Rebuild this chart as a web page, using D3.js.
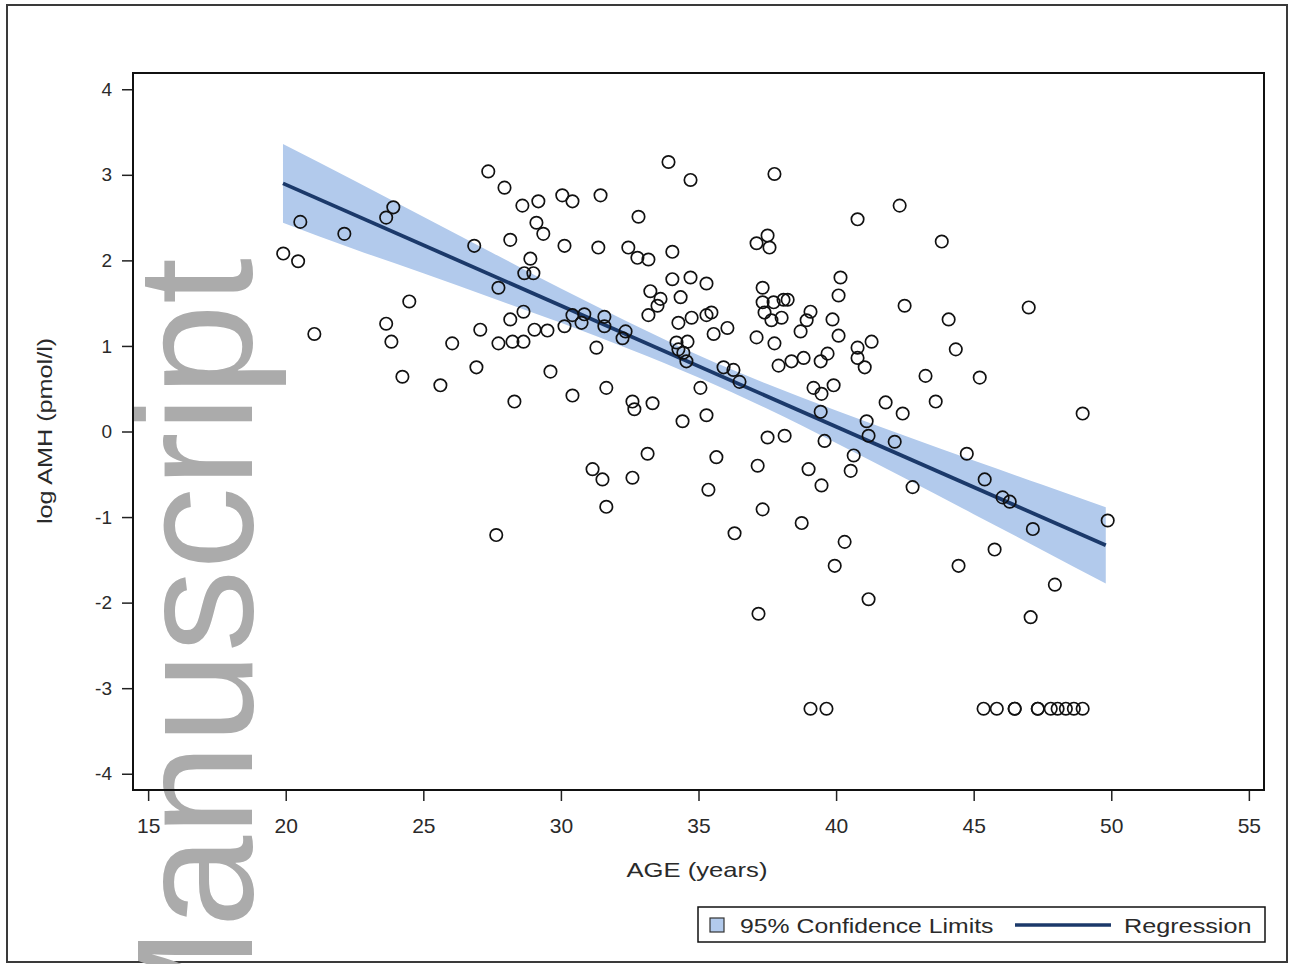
<!DOCTYPE html>
<html>
<head>
<meta charset="utf-8">
<script src="https://cdn.jsdelivr.net/npm/d3@7"></script>
<style>
  html, body { margin: 0; padding: 0; background: #fff; }
  svg { display: block; }
  text { font-family: "Liberation Sans", Arial, sans-serif; }
</style>
</head>
<body>
<svg id="chart" width="1289" height="964"></svg>
<script>
// ---------------- data ----------------
const age = [
  19.91, 20.45, 20.53, 21.04, 22.13, 23.65, 23.91, 23.65, 23.84, 24.49, 24.24, 25.62, 26.05,
  27.36, 27.95, 28.60, 29.18, 30.05, 30.42, 31.44, 33.91, 34.71, 29.11, 29.36, 32.82,
  26.85, 28.16, 30.13, 31.36, 32.45, 32.78, 33.18, 34.05, 28.89, 28.67, 29.00, 27.73,
  34.05, 34.71, 35.29, 33.25, 33.62, 34.35, 33.51, 33.18, 34.27, 34.75, 35.29, 35.47,
  35.55, 36.05, 28.64, 28.16, 27.07, 27.73, 28.24, 28.64, 29.04, 29.51, 30.13, 30.42,
  30.85, 30.75, 31.58, 31.58, 32.35, 32.24, 31.29, 34.20, 34.60, 34.27, 34.45, 34.56,
  35.91, 26.93, 29.62, 28.31, 30.42, 31.65, 32.60, 32.67, 33.33, 34.42, 35.07, 35.29,
  37.76, 42.31, 40.78, 43.84, 37.51, 37.11, 37.58, 40.16, 40.09, 42.49, 44.09, 44.35,
  37.33, 37.33, 37.73, 38.09, 38.24, 37.40, 37.65, 38.02, 39.07, 38.93, 38.71, 39.87,
  40.09, 37.11, 37.76, 37.91, 38.38, 38.82, 39.44, 39.69, 40.78, 40.78, 41.29, 41.04,
  43.25, 43.62, 41.80, 39.18, 39.91, 39.47, 36.27, 36.49, 47.00, 45.22,
  37.51, 38.13, 39.44, 39.58, 41.11, 41.18, 40.64, 40.53, 33.15, 31.15, 31.51, 32.60,
  31.65, 35.65, 35.36, 37.15, 39.00, 39.47, 37.33, 36.31, 38.75, 40.31, 39.95, 41.18,
  37.18, 42.13, 27.65,
  42.42, 42.78, 44.45, 44.75, 45.40, 45.76, 46.05, 46.31, 47.07, 47.15, 47.95, 48.96, 49.87,
  39.07, 39.65, 45.36, 45.84, 46.49, 46.49, 47.33, 47.33, 47.80, 48.05, 48.35, 48.64, 48.96
];
const logAmh = [
  2.08, 1.99, 2.45, 1.14, 2.31, 2.50, 2.62, 1.26, 1.05, 1.52, 0.64, 0.54, 1.03,
  3.04, 2.85, 2.64, 2.69, 2.76, 2.69, 2.76, 3.15, 2.94, 2.44, 2.31, 2.51,
  2.17, 2.24, 2.17, 2.15, 2.15, 2.03, 2.01, 2.10, 2.02, 1.85, 1.85, 1.68,
  1.78, 1.80, 1.73, 1.64, 1.55, 1.57, 1.47, 1.36, 1.27, 1.33, 1.36, 1.39,
  1.14, 1.21, 1.40, 1.31, 1.19, 1.03, 1.05, 1.05, 1.19, 1.18, 1.23, 1.36,
  1.37, 1.27, 1.34, 1.23, 1.17, 1.09, 0.98, 1.04, 1.05, 0.96, 0.92, 0.82,
  0.75, 0.75, 0.70, 0.35, 0.42, 0.51, 0.35, 0.26, 0.33, 0.12, 0.51, 0.19,
  3.01, 2.64, 2.48, 2.22, 2.29, 2.20, 2.15, 1.80, 1.59, 1.47, 1.31, 0.96,
  1.68, 1.51, 1.51, 1.54, 1.54, 1.39, 1.30, 1.33, 1.40, 1.30, 1.17, 1.31,
  1.12, 1.10, 1.03, 0.77, 0.82, 0.86, 0.82, 0.91, 0.98, 0.86, 1.05, 0.75,
  0.65, 0.35, 0.34, 0.51, 0.54, 0.44, 0.72, 0.58, 1.45, 0.63,
  -0.07, -0.05, 0.23, -0.11, 0.12, -0.05, -0.28, -0.46, -0.26, -0.44, -0.56, -0.54,
  -0.88, -0.30, -0.68, -0.40, -0.44, -0.63, -0.91, -1.19, -1.07, -1.29, -1.57, -1.96,
  -2.13, -0.12, -1.21,
  0.21, -0.65, -1.57, -0.26, -0.56, -1.38, -0.77, -0.82, -2.17, -1.14, -1.79, 0.21, -1.04,
  -3.24, -3.24, -3.24, -3.24, -3.24, -3.24, -3.24, -3.24, -3.24, -3.24, -3.24, -3.24, -3.24
];

// Regression fit and 95% confidence limits
const regAge = [19.9, 49.8];
const regFit = [2.90, -1.33];
const bandAge   = [19.9, 22.5, 25, 27.5, 30, 32.5, 35, 37.5, 40, 42.5, 45, 47.5, 49.8];
const bandUpper = [3.36, 2.93, 2.51, 2.09, 1.67, 1.27, 0.89, 0.555, 0.246, -0.05, -0.338, -0.623, -0.885];
const bandLower = [2.44, 2.13, 1.85, 1.56, 1.27, 0.96, 0.63, 0.265, -0.134, -0.546, -0.966, -1.387, -1.777];

const xTicks = [15, 20, 25, 30, 35, 40, 45, 50, 55];
const yTicks = [-4, -3, -2, -1, 0, 1, 2, 3, 4];

const xTitle = "AGE (years)";
const yTitle = "log AMH (pmol/l)";
const legendBand = "95% Confidence Limits";
const legendLine = "Regression";
const watermark = "Manuscript";

// ---------------- drawing ----------------
const svg = d3.select("#chart");
const W = 1289, H = 964;
const plot = { left: 133, top: 73, right: 1264, bottom: 790 };

const bandColor = "#b2caec";
const lineColor = "#1b396a";

const x = d3.scaleLinear().domain([14.45, 55.55]).range([plot.left, plot.right]);
const y = d3.scaleLinear().domain([-4.19, 4.19]).range([plot.bottom, plot.top]);

function stretch(sel, f) {
  sel.each(function () {
    const len = this.getComputedTextLength();
    d3.select(this).attr("textLength", len * f).attr("lengthAdjust", "spacingAndGlyphs");
  });
}

svg.append("rect").attr("width", W).attr("height", H).attr("fill", "#fff");

// outer border
svg.append("rect")
  .attr("x", 7).attr("y", 5).attr("width", 1280).attr("height", 957)
  .attr("fill", "none").attr("stroke", "#3a3a3a").attr("stroke-width", 2);

// watermark
svg.append("text")
  .attr("transform", "translate(252,1065) rotate(-90)")
  .attr("font-size", 165)
  .attr("fill", "#ababab")
  .text(watermark);

// confidence band
const bandData = bandAge.map((a, i) => ({ a, lo: bandLower[i], hi: bandUpper[i] }));
svg.append("path")
  .datum(bandData)
  .attr("fill", bandColor)
  .attr("d", d3.area().curve(d3.curveMonotoneX)
    .x(d => x(d.a)).y0(d => y(d.lo)).y1(d => y(d.hi)));

// regression line
svg.append("path")
  .datum(regAge.map((a, i) => ({ a, v: regFit[i] })))
  .attr("fill", "none").attr("stroke", lineColor).attr("stroke-width", 3.8)
  .attr("d", d3.line().x(d => x(d.a)).y(d => y(d.v)));

// points
svg.append("g").selectAll("circle")
  .data(age.map((a, i) => ({ a, v: logAmh[i] })))
  .join("circle")
  .attr("cx", d => x(d.a)).attr("cy", d => y(d.v)).attr("r", 6.2)
  .attr("fill", "none").attr("stroke", "#111").attr("stroke-width", 1.7);

// axes
const gx = svg.append("g").attr("transform", `translate(0,${plot.bottom})`)
  .call(d3.axisBottom(x).tickValues(xTicks).tickSize(11).tickPadding(17).tickFormat(d => String(d)));
const gy = svg.append("g").attr("transform", `translate(${plot.left},0)`)
  .call(d3.axisLeft(y).tickValues(yTicks).tickSize(11).tickPadding(10).tickFormat(d => String(d)));
[gx, gy].forEach(g => {
  g.select(".domain").remove();
  g.selectAll("line").attr("stroke", "#222").attr("stroke-width", 1.5);
  g.selectAll("text").attr("fill", "#2a2a2a").style("font-family", '"Liberation Sans", Arial, sans-serif');
});
gx.selectAll("text").attr("font-size", 21);
gy.selectAll("text").attr("font-size", 19);

// plot frame
svg.append("rect")
  .attr("x", plot.left).attr("y", plot.top)
  .attr("width", plot.right - plot.left).attr("height", plot.bottom - plot.top)
  .attr("fill", "none").attr("stroke", "#111").attr("stroke-width", 2);

// axis titles
svg.append("text")
  .attr("x", 697).attr("y", 877).attr("text-anchor", "middle")
  .attr("font-size", 21).attr("fill", "#2a2a2a")
  .text(xTitle).call(stretch, 1.22);
svg.append("text")
  .attr("transform", "translate(52,431) rotate(-90)").attr("text-anchor", "middle")
  .attr("font-size", 21).attr("fill", "#2a2a2a")
  .text(yTitle).call(stretch, 1.2);

// legend
const lg = svg.append("g");
lg.append("rect").attr("x", 698).attr("y", 907).attr("width", 567).attr("height", 35)
  .attr("fill", "#fff").attr("stroke", "#111").attr("stroke-width", 1.5);
lg.append("rect").attr("x", 710).attr("y", 918).attr("width", 14).attr("height", 14)
  .attr("fill", bandColor).attr("stroke", "#333").attr("stroke-width", 1.2);
lg.append("text").attr("x", 740).attr("y", 933).attr("font-size", 21).attr("fill", "#2a2a2a")
  .text(legendBand).call(stretch, 1.18);
lg.append("line").attr("x1", 1015).attr("x2", 1111).attr("y1", 925).attr("y2", 925)
  .attr("stroke", lineColor).attr("stroke-width", 3.5);
lg.append("text").attr("x", 1124).attr("y", 933).attr("font-size", 21).attr("fill", "#2a2a2a")
  .text(legendLine).call(stretch, 1.2);
</script>
</body>
</html>
